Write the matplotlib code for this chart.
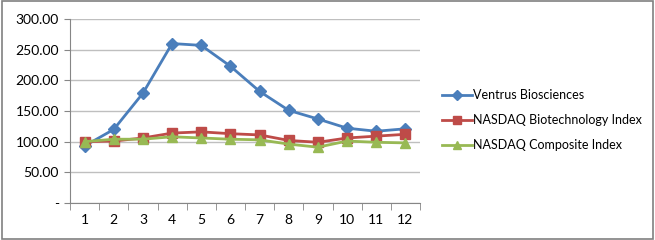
import matplotlib.pyplot as plt
from matplotlib.patches import Rectangle
import numpy as np

months = list(range(1, 13))
ventrus = [93, 120, 179, 260, 257, 223, 182, 151, 137, 122, 117, 121]
biotech = [100, 101, 106, 114, 116, 113, 111, 102, 99, 106, 109, 112]
composite = [100, 104, 104, 108, 106, 104, 103, 96, 91, 101, 99, 98]
yticks = [0, 50, 100, 150, 200, 250, 300]
ytick_labels = ["-", "50.00", "100.00", "150.00", "200.00", "250.00", "300.00"]

plt.rcParams["font.family"] = ["Lato", "DejaVu Sans"]

fig = plt.figure(figsize=(6.55, 2.4), dpi=100)
ax = fig.add_axes([70 / 655, 37 / 240, 350 / 655, 184 / 240])

x = np.arange(len(months))
ax.plot(x, ventrus, color="#4a7ebb", lw=2, marker="D", ms=6, label="Ventrus Biosciences")
ax.plot(x, biotech, color="#be4b48", lw=2, marker="s", ms=7, label="NASDAQ Biotechnology Index")
ax.plot(x, composite, color="#98b954", lw=2, marker="^", ms=7, label="NASDAQ Composite Index")

ax.set_xlim(-0.5, 11.5)
ax.set_ylim(0, 300)
ax.set_yticks(yticks)
ax.set_yticklabels(ytick_labels, fontsize=10)
ax.set_xticks(x)
ax.set_xticklabels([str(m) for m in months], fontsize=10)
ax.tick_params(axis="x", length=0, pad=8)
ax.set_xticks(np.arange(-0.5, 12, 1), minor=True)
ax.tick_params(axis="x", which="minor", length=5, color="#868686", direction="out")
ax.tick_params(axis="y", length=4, color="#868686", direction="out", pad=4)
ax.grid(axis="y", color="#bfbfbf", lw=1)
ax.set_axisbelow(True)
for s in ["top", "right"]:
    ax.spines[s].set_visible(False)
for s in ["left", "bottom"]:
    ax.spines[s].set_color("#868686")

leg = ax.legend(loc="center left", bbox_to_anchor=(1.03, 0.45), frameon=False,
                fontsize=9, handlelength=2.4, handletextpad=0.1, labelspacing=1.05,
                markerscale=0.85)

fig.patches.append(Rectangle((0.003, 0.005), 0.994, 0.99, transform=fig.transFigure,
                             fill=False, edgecolor="#808080", lw=1.2))

fig.savefig("out.png", dpi=100)
